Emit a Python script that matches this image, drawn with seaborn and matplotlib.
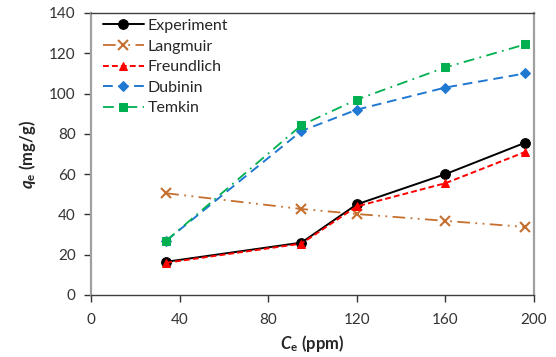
import matplotlib
matplotlib.use("Agg")
import matplotlib.pyplot as plt
import seaborn as sns
import pandas as pd

ce = [34, 95, 120, 160, 196]
experiment = [16.5, 26, 45, 60, 75.6]
langmuir = [50.5, 42.7, 40.2, 36.8, 33.8]
freundlich = [16, 25.5, 44, 55.5, 71]
dubinin = [27, 81.4, 92, 103, 110]
temkin = [27, 84.3, 97, 113, 124.4]

x_ticks = [0, 40, 80, 120, 160, 200]
y_ticks = [0, 20, 40, 60, 80, 100, 120, 140]

sns.set_theme(style="ticks")
plt.rcParams['font.family'] = ['Lato', 'DejaVu Sans']
plt.rcParams['mathtext.fontset'] = 'custom'
plt.rcParams['mathtext.it'] = 'Lato:italic:bold'
plt.rcParams['mathtext.rm'] = 'Lato:bold'
plt.rcParams['mathtext.bf'] = 'Lato:bold'

fig = plt.figure(figsize=(5.56, 3.57), dpi=100)
ax = fig.add_axes([91/556, 1-295/357, (534-91)/556, (295-13)/357])

series = [
    ("Experiment", experiment, dict(color="black", linestyle="-", marker="o", markersize=7, linewidth=1.4)),
    ("Langmuir", langmuir, dict(color="#C5702F", linestyle=(0, (7, 3, 1, 3, 1, 3)), marker="x", markersize=7, markeredgewidth=1.5, linewidth=1.3)),
    ("Freundlich", freundlich, dict(color="#FF0000", linestyle=(0, (3, 1.6)), marker="^", markersize=6, linewidth=1.4)),
    ("Dubinin", dubinin, dict(color="#1F78D1", linestyle=(0, (5, 3)), marker="D", markersize=5, linewidth=1.4)),
    ("Temkin", temkin, dict(color="#00B050", linestyle=(0, (6, 3, 1, 3)), marker="s", markersize=6, linewidth=1.3)),
]

for name, vals, kw in series:
    df = pd.DataFrame({"Ce": ce, "qe": vals})
    sns.lineplot(data=df, x="Ce", y="qe", ax=ax, label=name, markeredgecolor=kw["color"], **kw)

ax.set_xlim(0, 200)
ax.set_ylim(0, 140)
ax.set_xticks(x_ticks)
ax.set_yticks(y_ticks)
ax.tick_params(axis='both', direction='out', length=5, width=1, labelsize=11, colors='#333333', labelcolor='#333333', pad=6)
ax.tick_params(axis='x', pad=8)

ax.set_xlabel(r'$C_\mathrm{e}$ (ppm)', fontsize=12, fontweight='bold', labelpad=4)
ax.set_ylabel(r'$q_\mathrm{e}$ (mg/g)', fontsize=12, fontweight='bold', labelpad=8)

for s in ['left', 'right']:
    ax.spines[s].set_color('#A0A0A0')
    ax.spines[s].set_linewidth(1.6)
for s in ['top', 'bottom']:
    ax.spines[s].set_color('#404040')
    ax.spines[s].set_linewidth(1.0)

leg = ax.legend(loc='upper left', bbox_to_anchor=(0.01, 1.005), frameon=False, fontsize=11.5,
                handlelength=2.6, handletextpad=0.2, labelspacing=0.4, borderaxespad=0.05)

fig.savefig("out.png", dpi=100)
